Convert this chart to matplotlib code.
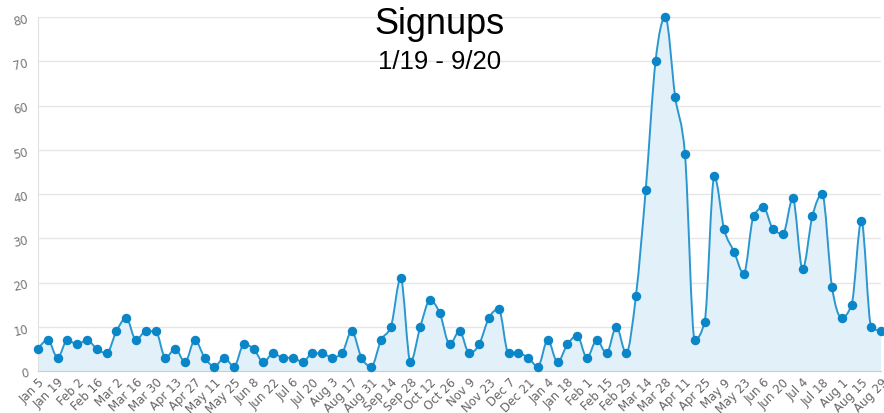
import numpy as np
import matplotlib.pyplot as plt
from matplotlib.path import Path
from matplotlib.patches import PathPatch

# weekly signups, Jan 5 2019 .. Aug 29 2020
weeks = ["Jan 5", "Jan 12", "Jan 19", "Jan 26", "Feb 2", "Feb 9", "Feb 16", "Feb 23",
         "Mar 2", "Mar 9", "Mar 16", "Mar 23", "Mar 30", "Apr 6", "Apr 13", "Apr 20",
         "Apr 27", "May 4", "May 11", "May 18", "May 25", "Jun 1", "Jun 8", "Jun 15",
         "Jun 22", "Jun 29", "Jul 6", "Jul 13", "Jul 20", "Jul 27", "Aug 3", "Aug 10",
         "Aug 17", "Aug 24", "Aug 31", "Sep 7", "Sep 14", "Sep 21", "Sep 28", "Oct 5",
         "Oct 12", "Oct 19", "Oct 26", "Nov 2", "Nov 9", "Nov 16", "Nov 23", "Nov 30",
         "Dec 7", "Dec 14", "Dec 21", "Dec 28", "Jan 4", "Jan 11", "Jan 18", "Jan 25",
         "Feb 1", "Feb 8", "Feb 15", "Feb 22", "Feb 29", "Mar 7", "Mar 14", "Mar 21",
         "Mar 28", "Apr 4", "Apr 11", "Apr 18", "Apr 25", "May 2", "May 9", "May 16",
         "May 23", "May 30", "Jun 6", "Jun 13", "Jun 20", "Jun 27", "Jul 4", "Jul 11",
         "Jul 18", "Jul 25", "Aug 1", "Aug 8", "Aug 15", "Aug 22", "Aug 29"]
signups = [5, 7, 3, 7, 6, 7, 5, 4, 9, 12, 7, 9, 9, 3, 5, 2,
           7, 3, 1, 3, 1, 6, 5, 2, 4, 3, 3, 2, 4, 4, 3, 4,
           9, 3, 1, 7, 10, 21, 2, 10, 16, 13, 6, 9, 4, 6, 12, 14,
           4, 4, 3, 1, 7, 2, 6, 8, 3, 7, 4, 10, 4, 17, 41, 70,
           80, 62, 49, 7, 11, 44, 32, 27, 22, 35, 37, 32, 31, 39, 23, 35,
           40, 19, 12, 15, 34, 10, 9]
yticks = [0, 10, 20, 30, 40, 50, 60, 70, 80]

line_col = "#2b97cf"
dot_col = "#0a86c8"
fill_col = "#e2f1f9"


def monotone_path(x, y):
    # monotone cubic curve (like d3 curveMonotoneX) as bezier segments
    n = len(x)
    h = np.diff(x)
    s = np.diff(y) / h
    t = np.zeros(n)
    for i in range(1, n - 1):
        p = (s[i - 1] * h[i] + s[i] * h[i - 1]) / (h[i - 1] + h[i])
        t[i] = (np.sign(s[i - 1]) + np.sign(s[i])) * min(abs(s[i - 1]), abs(s[i]), 0.5 * abs(p))
    t[0] = (3 * s[0] - t[1]) / 2
    t[-1] = (3 * s[-1] - t[-2]) / 2
    verts = [(x[0], y[0])]
    codes = [Path.MOVETO]
    for i in range(n - 1):
        d = h[i] / 3
        verts += [(x[i] + d, y[i] + d * t[i]), (x[i + 1] - d, y[i + 1] - d * t[i + 1]), (x[i + 1], y[i + 1])]
        codes += [Path.CURVE4] * 3
    return verts, codes


x = np.arange(len(signups), dtype=float)
y = np.array(signups, dtype=float)

fig = plt.figure(figsize=(8.84, 4.14), dpi=100)
ax = fig.add_axes([38 / 884, 42 / 414, 843 / 884, 354 / 414])

verts, codes = monotone_path(x, y)
ax.add_patch(PathPatch(Path(verts + [(x[-1], 0), (x[0], 0), (x[0], y[0])],
                            codes + [Path.LINETO, Path.LINETO, Path.CLOSEPOLY]),
                       facecolor=fill_col, edgecolor="none", zorder=1))
ax.add_patch(PathPatch(Path(verts, codes), facecolor="none", edgecolor=line_col,
                       lw=1.4, zorder=2, clip_on=False))
ax.plot(x, y, "o", color=dot_col, ms=5.8, zorder=3, clip_on=False)

ax.set_xlim(0, len(signups) - 1)
ax.set_ylim(0, 80)
ax.set_yticks(yticks)
ax.set_xticks(x[::2])
ax.set_xticklabels(weeks[::2], rotation=45, ha="right", va="top", rotation_mode="anchor")
ax.tick_params(axis="x", length=0, pad=3, labelsize=8.5, labelcolor="#666666")
ax.tick_params(axis="y", length=0, pad=6, labelsize=8.5, labelcolor="#777777", labelrotation=12)
ax.grid(axis="y", color="#e6e6e6", lw=1)
ax.set_axisbelow(True)
for side in ["top", "right"]:
    ax.spines[side].set_visible(False)
ax.spines["left"].set_color("#e0e0e0")
ax.spines["bottom"].set_color("#cccccc")

fig.text(0.497, 0.94, "Signups", ha="center", va="center", fontsize=26,
         family="Liberation Sans")
fig.text(0.497, 0.85, "1/19 - 9/20", ha="center", va="center", fontsize=18.5,
         family="Liberation Sans")

fig.savefig("out.png", dpi=100)
